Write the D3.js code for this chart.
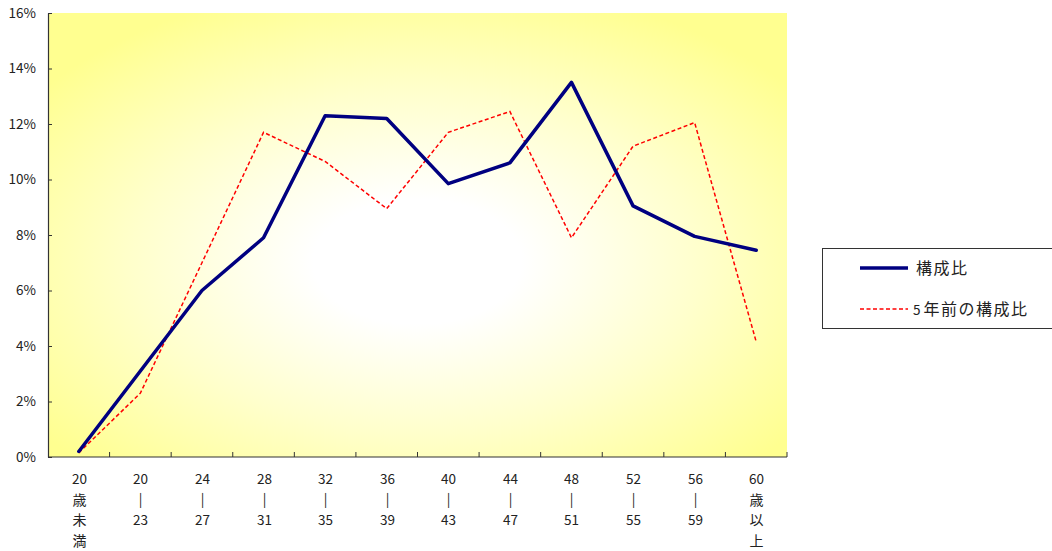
<!DOCTYPE html>
<html>
<head>
<meta charset="utf-8">
<script src="https://cdn.jsdelivr.net/npm/d3@7"></script>
<style>
  html, body { margin: 0; padding: 0; background: #ffffff; }
  svg { display: block; }
  text { font-family: "Noto Sans CJK JP", "DejaVu Sans", sans-serif; fill: #222; }
</style>
</head>
<body>
<svg id="chart" width="1052" height="551"></svg>
<script>
// Age bands (each label is stacked vertically, one glyph group per line)
const categories = [
  ["20", "歳", "未", "満"],
  ["20", "|", "23"],
  ["24", "|", "27"],
  ["28", "|", "31"],
  ["32", "|", "35"],
  ["36", "|", "39"],
  ["40", "|", "43"],
  ["44", "|", "47"],
  ["48", "|", "51"],
  ["52", "|", "55"],
  ["56", "|", "59"],
  ["60", "歳", "以", "上"]
];
// Share of each age band (%)
const currentShare = [0.2, 3.1, 6.0, 7.9, 12.3, 12.2, 9.85, 10.6, 13.5, 9.05, 7.95, 7.45];
const previousShare = [0.15, 2.3, 7.0, 11.7, 10.65, 8.95, 11.7, 12.45, 7.9, 11.2, 12.05, 4.15];
const yTicks = [0, 2, 4, 6, 8, 10, 12, 14, 16];
const seriesNames = ["構成比", "5年前の構成比"];

const svg = d3.select("#chart");
const plotLeft = 48, plotRight = 787, plotTop = 13, plotBottom = 457;

const x = d3.scaleBand().domain(d3.range(categories.length)).range([plotLeft, plotRight]);
const y = d3.scaleLinear().domain([0, 16]).range([plotBottom, plotTop]);

// Digits and bars are set smaller than the full-width kanji
const isDigit = s => /^[0-9|%]+$/.test(s);

// Plot-area fill: white centre fading to yellow at the edges
const defs = svg.append("defs");
const grad = defs.append("radialGradient")
  .attr("id", "plotFill")
  .attr("cx", "0.5").attr("cy", "0.56").attr("r", "0.64");
grad.append("stop").attr("offset", "0").attr("stop-color", "#ffffff");
grad.append("stop").attr("offset", "0.22").attr("stop-color", "#ffffff");
grad.append("stop").attr("offset", "0.6").attr("stop-color", "#ffffcc");
grad.append("stop").attr("offset", "1").attr("stop-color", "#ffff90");

svg.append("rect")
  .attr("x", plotLeft).attr("y", plotTop)
  .attr("width", plotRight - plotLeft).attr("height", plotBottom - plotTop)
  .attr("fill", "url(#plotFill)");

// Y axis: ticks point into the plot area
const yAxis = svg.append("g")
  .attr("transform", `translate(${plotLeft},0)`)
  .call(d3.axisRight(y).tickValues(yTicks).tickSize(4).tickSizeOuter(0).tickFormat(""));
yAxis.select(".domain").attr("stroke", "#333").attr("stroke-width", 1.2);
yAxis.selectAll(".tick line").attr("stroke", "#333");

svg.append("g").selectAll("text")
  .data(yTicks)
  .join("text")
  .attr("x", 36)
  .attr("y", d => y(d))
  .attr("dy", "0.36em")
  .attr("text-anchor", "end")
  .attr("font-size", 13.5)
  .text(d => d + "%");

// X axis: ticks on the category boundaries, pointing up
const boundaries = d3.range(categories.length + 1).map(i => plotLeft + i * x.bandwidth());
const xAxisG = svg.append("g");
xAxisG.append("line")
  .attr("x1", plotLeft).attr("x2", plotRight)
  .attr("y1", plotBottom).attr("y2", plotBottom)
  .attr("stroke", "#333").attr("stroke-width", 1.2);
xAxisG.selectAll("line.tick")
  .data(boundaries.slice(1))
  .join("line")
  .attr("class", "tick")
  .attr("x1", d => d).attr("x2", d => d)
  .attr("y1", plotBottom).attr("y2", plotBottom - 5)
  .attr("stroke", "#333");

// Category labels, stacked vertically
const labelG = svg.append("g");
categories.forEach((lines, i) => {
  const cx = Math.round(x(i) + x.bandwidth() / 2) + 0.5;
  lines.forEach((s, j) => {
    labelG.append("text")
      .attr("x", cx)
      .attr("y", 479 + j * 20.5)
      .attr("dy", "0.36em")
      .attr("text-anchor", "middle")
      .attr("font-size", isDigit(s) ? 13.5 : 14)
      .attr("font-family", s === "|" ? "Liberation Sans" : null)
      .attr("fill", s === "|" ? "#444" : null)
      .text(s);
  });
});

// Lines
const line = d3.line()
  .x((d, i) => x(i) + x.bandwidth() / 2)
  .y(d => y(d));

svg.append("path")
  .datum(previousShare)
  .attr("fill", "none")
  .attr("stroke", "#ff0000")
  .attr("stroke-width", 1.5)
  .attr("stroke-dasharray", "4,2.5")
  .attr("d", line);

svg.append("path")
  .datum(currentShare)
  .attr("fill", "none")
  .attr("stroke", "#000080")
  .attr("stroke-width", 3.5)
  .attr("stroke-linejoin", "round")
  .attr("stroke-linecap", "round")
  .attr("d", line);

// Legend
const legend = svg.append("g");
legend.append("rect")
  .attr("x", 822.5).attr("y", 248.5)
  .attr("width", 240).attr("height", 80)
  .attr("fill", "#ffffff")
  .attr("stroke", "#333").attr("stroke-width", 1);

const legendItems = [
  { name: seriesNames[0], color: "#000080", width: 3.5, dash: null, y: 268 },
  { name: seriesNames[1], color: "#ff0000", width: 1.5, dash: "4,2.5", y: 309 }
];
legendItems.forEach(item => {
  legend.append("line")
    .attr("x1", 860).attr("x2", 908)
    .attr("y1", item.y).attr("y2", item.y)
    .attr("stroke", item.color)
    .attr("stroke-width", item.width)
    .attr("stroke-dasharray", item.dash);
  const t = legend.append("text")
    .attr("x", 913).attr("y", item.y)
    .attr("dy", "0.36em");
  // split into runs so the leading digit gets the narrower size
  (item.name.match(/[0-9]+|[^0-9]+/g) || []).forEach(run => {
    t.append("tspan")
      .attr("font-size", isDigit(run) ? 13.5 : 16)
      .attr("letter-spacing", isDigit(run) ? 0 : 1.5)
      .attr("dx", isDigit(run) ? 0 : 3)
      .text(run);
  });
});
</script>
</body>
</html>
